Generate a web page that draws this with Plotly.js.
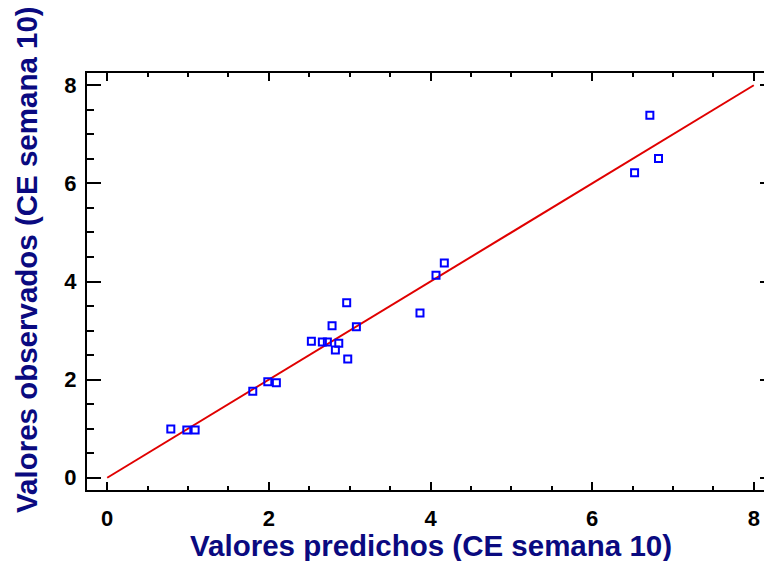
<!DOCTYPE html>
<html>
<head>
<meta charset="utf-8">
<script src="https://cdn.plot.ly/plotly-3.0.1.min.js"></script>
<style>
  html, body { margin: 0; padding: 0; overflow: hidden; background: #fff; }
  #chart { width: 780px; height: 561px; }
</style>
</head>
<body>
<div id="chart"></div>
<script>
// Predicted vs observed CE (week 10)
const predichos = [0.787, 0.985, 1.088, 1.801, 1.987, 2.093, 2.526, 2.662, 2.724, 2.782,
                   2.823, 2.865, 2.963, 2.976, 3.083, 3.870, 4.068, 4.171, 6.525, 6.714, 6.821];
const observados = [0.991, 0.971, 0.971, 1.765, 1.954, 1.934, 2.782, 2.768, 2.768, 3.100,
                    2.606, 2.741, 3.569, 2.422, 3.080, 3.359, 4.126, 4.377, 6.215, 7.389, 6.508];

// Identity reference line
const lineaX = [0, 8];
const lineaY = [0, 8];

const tickVals = [0, 2, 4, 6, 8];
const tickText = ['0', '2', '4', '6', '8'];

const tickFont = { family: 'Liberation Sans, Arial, sans-serif', size: 22, color: '#000', weight: 700 };
const titleFont = { family: 'Liberation Sans, Arial, sans-serif', size: 29.5, color: '#0a0a80', weight: 700 };

const traces = [
  {
    x: lineaX, y: lineaY, type: 'scatter', mode: 'lines',
    line: { color: '#e00000', width: 2 }, hoverinfo: 'skip'
  },
  {
    x: predichos, y: observados, type: 'scatter', mode: 'markers',
    marker: { symbol: 'square-open', size: 7, color: '#0000ff', line: { color: '#0000ff', width: 2 } }
  }
];

const axisCommon = {
  range: [-0.25, 8.25],
  tickmode: 'array',
  showgrid: false, zeroline: false,
  showline: true, linecolor: '#000', linewidth: 2,
  mirror: 'ticks', ticks: 'inside', tickcolor: '#000', tickwidth: 2,
  tickfont: tickFont,
  minor: { dtick: 0.5, tick0: 0, ticks: 'inside', tickwidth: 2, tickcolor: '#000', showgrid: false }
};

const layout = {
  width: 780, height: 561,
  margin: { l: 87, r: 6, t: 73, b: 71 },
  paper_bgcolor: '#fff', plot_bgcolor: '#fff',
  showlegend: false,
  xaxis: Object.assign({}, axisCommon, {
    tickvals: tickVals, ticktext: tickText, ticklen: 8,
    minor: Object.assign({}, axisCommon.minor, { ticklen: 4 }),
    ticklabelstandoff: 8
  }),
  yaxis: Object.assign({}, axisCommon, {
    tickvals: tickVals, ticktext: tickText, ticklen: 14,
    minor: Object.assign({}, axisCommon.minor, { ticklen: 7 }),
    ticklabelstandoff: 4
  }),
  annotations: [
    {
      text: 'Valores predichos (CE semana 10)', xref: 'paper', yref: 'paper',
      x: 0.5, y: -0.1319, xanchor: 'center', yanchor: 'middle',
      showarrow: false, font: titleFont
    },
    {
      text: 'Valores observados (CE semana 10)', xref: 'paper', yref: 'paper',
      x: -0.0873, y: 0.5516, xanchor: 'center', yanchor: 'middle', textangle: -90,
      showarrow: false, font: titleFont
    }
  ]
};

Plotly.newPlot('chart', traces, layout, { displayModeBar: false, staticPlot: true });
</script>
</body>
</html>
